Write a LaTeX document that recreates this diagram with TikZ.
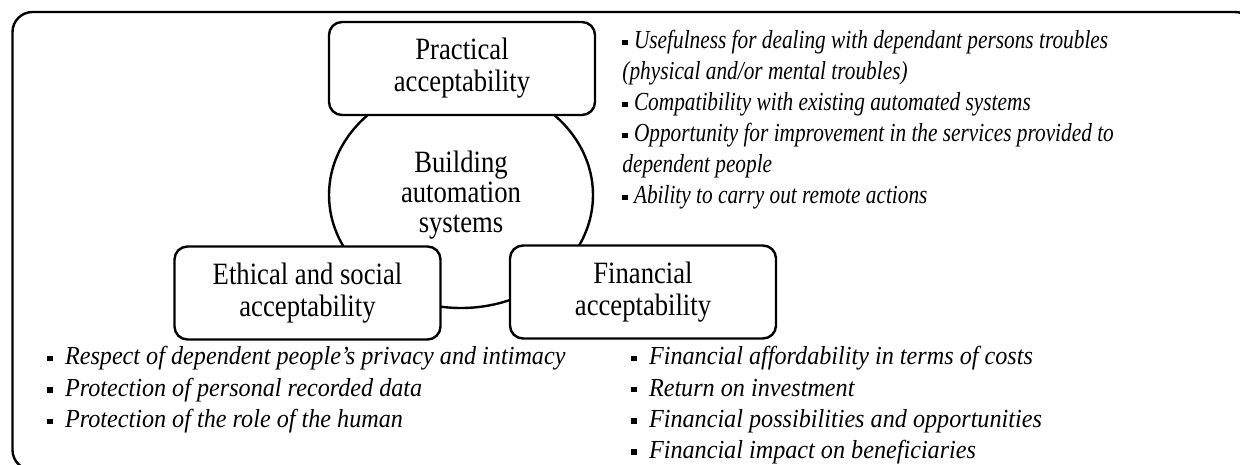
\documentclass[tikz,border=0pt]{standalone}
\usepackage{fontspec}
\setmainfont{Liberation Serif}[FakeStretch=0.86]
\newfontfamily\topcritfont{Liberation Serif}[FakeStretch=0.82]
\newfontfamily\botcritfont{Liberation Serif}[FakeStretch=0.93]
\usetikzlibrary{shapes.geometric}
\newcommand{\sqbul}[1][3pt]{\rule[1.8pt]{2.8pt}{2.8pt}\hspace{#1}}
\tikzset{
    accbox/.style={draw,line width=1.2pt,rounded corners=6.5pt,fill=white,
        minimum width=133pt,minimum height=46.5pt,align=center,
        font=\fontsize{15.5}{16}\selectfont},
    crit/.style={align=left,inner sep=0pt,anchor=north west}
}

\begin{document}
\begin{tikzpicture}[x=0.5pt,y=-0.5pt]
    \useasboundingbox (0,0) rectangle (1240,465);
    \begin{scope}
        \clip (0,0) rectangle (1240,465);
        \draw[line width=1.2pt,rounded corners=10pt] (12.5,12) rectangle (1255,470);
    \end{scope}

    \node[draw,ellipse,line width=1.2pt,minimum width=132pt,minimum height=113pt,
          inner sep=0pt,align=center,font=\fontsize{15.5}{15}\selectfont]
          (building) at (461,195) {Building\\automation\\systems};
    \node[accbox] (practical) at (462,68.5) {Practical\\acceptability};
    \node[accbox] (ethical) at (307.5,293) {Ethical and social\\acceptability};
    \node[accbox] (financial) at (643,292) {Financial\\acceptability};

    % criteria lists
    \node[crit,font=\topcritfont\fontsize{13}{15.5}\selectfont\itshape]
        (practicalList) at (622,30)
        {\sqbul Usefulness for dealing with dependant persons troubles\\
         (physical and/or mental troubles)\\
         \sqbul Compatibility with existing automated systems\\
         \sqbul Opportunity for improvement in the services provided to\\
         dependent people\\
         \sqbul Ability to carry out remote actions};
    \node[crit,font=\botcritfont\fontsize{13}{15.75}\selectfont\itshape]
        (ethicalList) at (47,346)
        {\sqbul[6pt]Respect of dependent people’s privacy and intimacy\\
         \sqbul[6pt]Protection of personal recorded data\\
         \sqbul[6pt]Protection of the role of the human};
    \node[crit,font=\botcritfont\fontsize{13}{15.65}\selectfont\itshape]
        (financialList) at (631,346)
        {\sqbul[6pt]Financial affordability in terms of costs\\
         \sqbul[6pt]Return on investment\\
         \sqbul[6pt]Financial possibilities and opportunities\\
         \sqbul[6pt]Financial impact on beneficiaries};
\end{tikzpicture}
\end{document}
